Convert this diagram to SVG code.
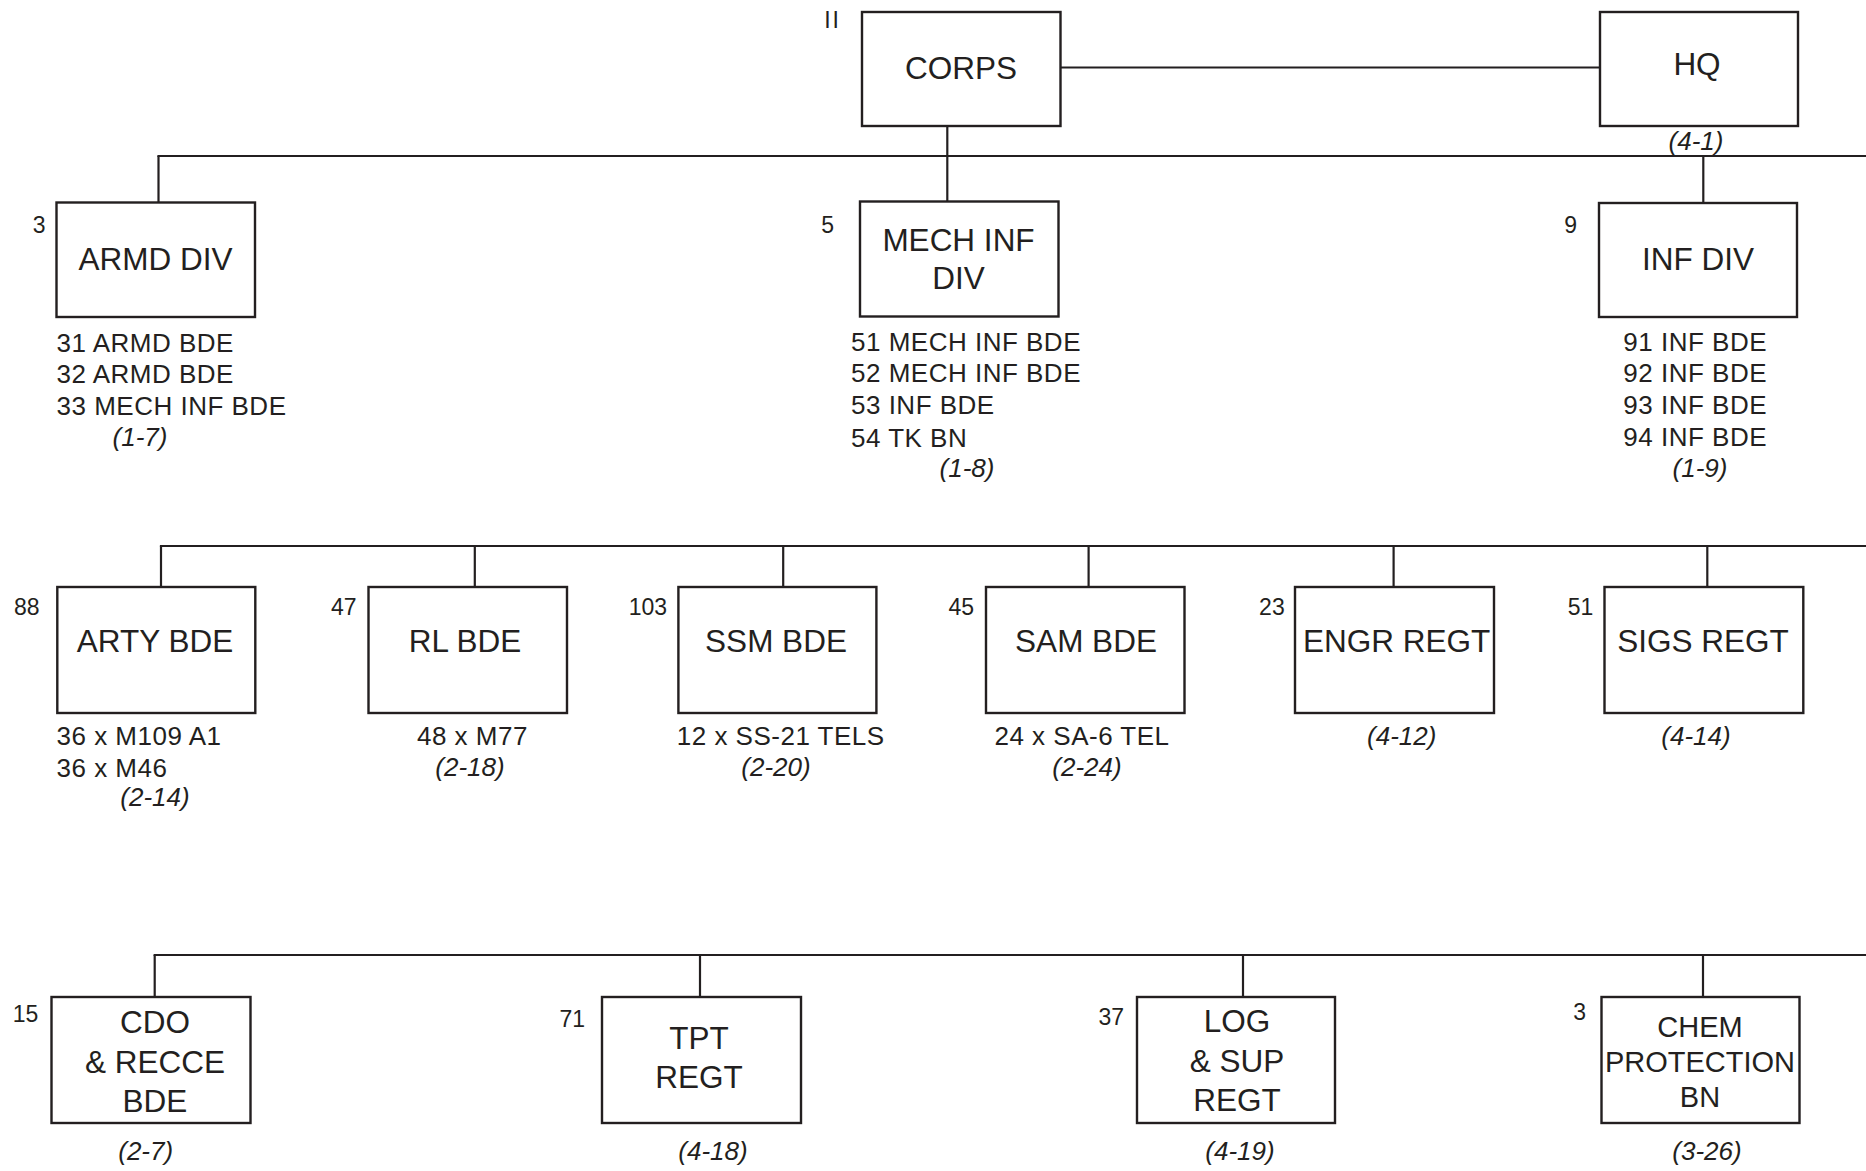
<svg xmlns="http://www.w3.org/2000/svg" width="1866" height="1171" viewBox="0 0 1866 1171">
<style>
  .box { fill: #ffffff; stroke: #231f20; stroke-width: 2.4; }
  .ln { stroke: #231f20; stroke-width: 2.2; fill: none; }
  text { font-family: "Liberation Sans", Arial, sans-serif; fill: #231f20; }
  .lbl { font-size: 31.5px; text-anchor: middle; }
  .lbls { font-size: 29px; text-anchor: middle; }
  .num { font-size: 23px; text-anchor: end; }
  .sub { font-size: 26px; letter-spacing: 0.5px; }
  .subc { font-size: 26px; letter-spacing: 0.5px; text-anchor: middle; }
  .ref { font-size: 26px; font-style: italic; text-anchor: middle; }
</style>
<rect width="1866" height="1171" fill="#ffffff"/>

<g id="connectors">
  <line class="ln" x1="1060" y1="67.5" x2="1600" y2="67.5"/>
  <line class="ln" x1="947.3" y1="126" x2="947.3" y2="202"/>
  <line class="ln" x1="157.4" y1="156" x2="1866" y2="156"/>
  <line class="ln" x1="158.5" y1="156" x2="158.5" y2="203"/>
  <line class="ln" x1="1703.3" y1="156" x2="1703.3" y2="203"/>
  <line class="ln" x1="159.9" y1="546" x2="1866" y2="546"/>
  <line class="ln" x1="161" y1="546" x2="161" y2="587"/>
  <line class="ln" x1="474.8" y1="546" x2="474.8" y2="587"/>
  <line class="ln" x1="783.2" y1="546" x2="783.2" y2="587"/>
  <line class="ln" x1="1088.6" y1="546" x2="1088.6" y2="587"/>
  <line class="ln" x1="1393.6" y1="546" x2="1393.6" y2="587"/>
  <line class="ln" x1="1707.3" y1="546" x2="1707.3" y2="587"/>
  <line class="ln" x1="153.6" y1="955" x2="1866" y2="955"/>
  <line class="ln" x1="154.7" y1="955" x2="154.7" y2="997"/>
  <line class="ln" x1="700" y1="955" x2="700" y2="997"/>
  <line class="ln" x1="1243" y1="955" x2="1243" y2="997"/>
  <line class="ln" x1="1703" y1="955" x2="1703" y2="997"/>
</g>

<g id="corps">
  <rect class="box" x="862" y="12" width="198.5" height="114"/>
  <text class="num" x="841" y="28" letter-spacing="2">II</text>
  <text class="lbl" x="961" y="79">CORPS</text>
</g>

<g id="hq">
  <rect class="box" x="1600" y="12" width="198" height="114"/>
  <text class="lbl" x="1697" y="75">HQ</text>
  <text class="ref" x="1696" y="150">(4-1)</text>
</g>

<g id="armd-div">
  <rect class="box" x="56.5" y="202.5" width="198.5" height="114.5"/>
  <text class="num" x="45.5" y="233">3</text>
  <text class="lbl" x="155.5" y="269.5">ARMD DIV</text>
  <text class="sub" x="56.5" y="351.7">31 ARMD BDE</text>
  <text class="sub" x="56.5" y="383.3">32 ARMD BDE</text>
  <text class="sub" x="56.5" y="415">33 MECH INF BDE</text>
  <text class="ref" x="140" y="446">(1-7)</text>
</g>

<g id="mech-inf-div">
  <rect class="box" x="860" y="201.5" width="198.5" height="115"/>
  <text class="num" x="834" y="233">5</text>
  <text class="lbl" x="958.5" y="250.7">MECH INF</text>
  <text class="lbl" x="958.5" y="289.3">DIV</text>
  <text class="sub" x="851" y="350.7">51 MECH INF BDE</text>
  <text class="sub" x="851" y="382.3">52 MECH INF BDE</text>
  <text class="sub" x="851" y="414">53 INF BDE</text>
  <text class="sub" x="851" y="446.7">54 TK BN</text>
  <text class="ref" x="967" y="476.7">(1-8)</text>
</g>

<g id="inf-div">
  <rect class="box" x="1599" y="203" width="198" height="114"/>
  <text class="num" x="1577" y="233">9</text>
  <text class="lbl" x="1698" y="270">INF DIV</text>
  <text class="sub" x="1623.3" y="350.7">91 INF BDE</text>
  <text class="sub" x="1623.3" y="382.3">92 INF BDE</text>
  <text class="sub" x="1623.3" y="414">93 INF BDE</text>
  <text class="sub" x="1623.3" y="445.7">94 INF BDE</text>
  <text class="ref" x="1700" y="476.7">(1-9)</text>
</g>

<g id="arty-bde">
  <rect class="box" x="57.3" y="587" width="198" height="126"/>
  <text class="num" x="39.5" y="615">88</text>
  <text class="lbl" x="155" y="652">ARTY BDE</text>
  <text class="sub" x="56.5" y="745">36 x M109 A1</text>
  <text class="sub" x="56.5" y="776.7">36 x M46</text>
  <text class="ref" x="155" y="806">(2-14)</text>
</g>

<g id="rl-bde">
  <rect class="box" x="368.5" y="587" width="198.5" height="126"/>
  <text class="num" x="356.5" y="615">47</text>
  <text class="lbl" x="465" y="652">RL BDE</text>
  <text class="subc" x="472.4" y="745">48 x M77</text>
  <text class="ref" x="470" y="776">(2-18)</text>
</g>

<g id="ssm-bde">
  <rect class="box" x="678.4" y="587" width="198" height="126"/>
  <text class="num" x="667" y="615">103</text>
  <text class="lbl" x="776" y="652">SSM BDE</text>
  <text class="subc" x="780.7" y="745">12 x SS-21 TELS</text>
  <text class="ref" x="776" y="776">(2-20)</text>
</g>

<g id="sam-bde">
  <rect class="box" x="986" y="587" width="198.5" height="126"/>
  <text class="num" x="974" y="615">45</text>
  <text class="lbl" x="1086" y="652">SAM BDE</text>
  <text class="subc" x="1082" y="745">24 x SA-6 TEL</text>
  <text class="ref" x="1087" y="776">(2-24)</text>
</g>

<g id="engr-regt">
  <rect class="box" x="1295" y="587" width="199" height="126"/>
  <text class="num" x="1284.7" y="615">23</text>
  <text class="lbl" x="1396.7" y="652">ENGR REGT</text>
  <text class="ref" x="1401.7" y="745">(4-12)</text>
</g>

<g id="sigs-regt">
  <rect class="box" x="1604.5" y="587" width="198.8" height="126"/>
  <text class="num" x="1593.3" y="615">51</text>
  <text class="lbl" x="1703" y="652">SIGS REGT</text>
  <text class="ref" x="1696" y="745">(4-14)</text>
</g>

<g id="cdo-recce-bde">
  <rect class="box" x="51.5" y="997" width="199" height="126"/>
  <text class="num" x="38.3" y="1022">15</text>
  <text class="lbl" x="155" y="1033">CDO</text>
  <text class="lbl" x="155" y="1072.5">&amp; RECCE</text>
  <text class="lbl" x="155" y="1111.7">BDE</text>
  <text class="ref" x="145.7" y="1160">(2-7)</text>
</g>

<g id="tpt-regt">
  <rect class="box" x="602" y="997" width="199" height="126"/>
  <text class="num" x="585" y="1026.5">71</text>
  <text class="lbl" x="699" y="1049">TPT</text>
  <text class="lbl" x="699" y="1088">REGT</text>
  <text class="ref" x="713" y="1160">(4-18)</text>
</g>

<g id="log-sup-regt">
  <rect class="box" x="1137" y="997" width="198" height="126"/>
  <text class="num" x="1124" y="1025">37</text>
  <text class="lbl" x="1237" y="1032">LOG</text>
  <text class="lbl" x="1237" y="1071.5">&amp; SUP</text>
  <text class="lbl" x="1237" y="1110.5">REGT</text>
  <text class="ref" x="1240" y="1160">(4-19)</text>
</g>

<g id="chem-protection-bn">
  <rect class="box" x="1601.5" y="997" width="198" height="126"/>
  <text class="num" x="1586" y="1020">3</text>
  <text class="lbls" x="1700" y="1036.7">CHEM</text>
  <text class="lbls" x="1700" y="1071.7">PROTECTION</text>
  <text class="lbls" x="1700" y="1107.3">BN</text>
  <text class="ref" x="1707" y="1160">(3-26)</text>
</g>
</svg>
